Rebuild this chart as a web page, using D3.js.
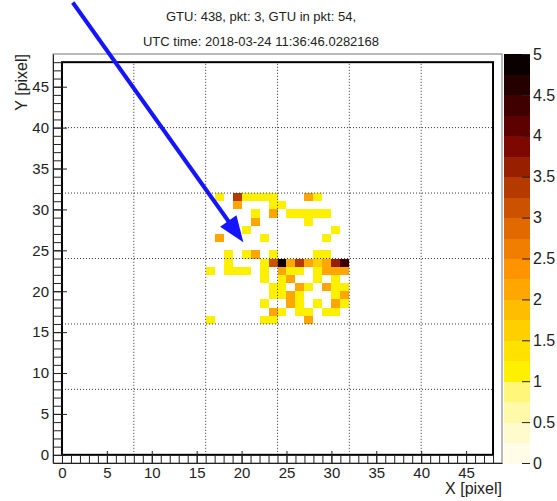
<!DOCTYPE html>
<html>
<head>
<meta charset="utf-8">
<script src="https://cdn.jsdelivr.net/npm/d3@7"></script>
<style>
  body { margin: 0; background: #fff; }
  text { font-family: "Liberation Sans", Arial, Helvetica, sans-serif; }
</style>
</head>
<body>
<svg id="chart" width="557" height="501"></svg>
<script>
// title lines
const titleLines = ['GTU: 438, pkt: 3, GTU in pkt: 54,', 'UTC time: 2018-03-24 11:36:46.0282168']

// pixel hits: [x pixel, y pixel, counts]
const cells = [
  [17,31,1.1],[19,31,3.3],[20,31,1.1],[21,31,1.1],[22,31,1.1],[23,31,1.1],[27,31,2.1],[28,31,1.1],
  [19,30,2.1],[23,30,1.1],[24,30,1.1],
  [21,29,1.1],[23,29,2.1],[25,29,1.1],[26,29,1.1],[27,29,1.1],[28,29,1.1],[29,29,1.1],
  [21,28,2.1],[27,28,1.1],
  [20,27,1.1],[30,27,1.1],
  [17,26,2.1],[22,26,1.1],[29,26,1.1],
  [18,24,1.1],[20,24,1.1],[21,24,2.1],[23,24,1.1],[28,24,1.1],[29,24,1.1],
  [18,23,1.1],[22,23,1.1],[23,23,3.1],[24,23,4.9],[25,23,2.1],[26,23,3.4],[27,23,2.1],
  [28,23,1.6],[29,23,2.1],[30,23,3.6],[31,23,4.4],
  [16,22,1.1],[18,22,1.1],[19,22,1.1],[20,22,1.1],[22,22,1.1],[24,22,2.1],[25,22,1.1],
  [26,22,1.1],[28,22,1.1],[29,22,2.1],[30,22,2.1],[31,22,2.1],
  [22,21,1.1],[24,21,1.1],[25,21,2.1],[28,21,1.1],[30,21,1.1],
  [23,20,1.1],[24,20,1.1],[26,20,2.1],[27,20,1.1],[29,20,2.1],[30,20,1.1],[31,20,1.1],
  [23,19,1.1],[24,19,1.1],[25,19,2.1],[26,19,1.1],[30,19,1.1],[31,19,2.1],
  [22,18,1.1],[25,18,2.1],[26,18,1.1],[28,18,1.1],[30,18,2.1],[31,18,1.1],
  [23,17,2.1],[24,17,1.1],[26,17,1.1],[27,17,1.1],[29,17,1.1],[30,17,1.1],
  [16,16,1.1],[22,16,1.1],[23,16,1.1],[27,16,2.1]
]

// palette, 20 contour levels from 0 to 5
const zLevels = d3.range(0, 5.0001, 0.25)
const palette = [
  '#fffde8','#fffbcc','#fff9a8','#fff67a','#fff000','#ffe200','#ffd000','#ffbd00',
  '#ffa700','#ff9400','#f27e00','#e26900','#cc5200','#b43a00','#982000','#7c0800',
  '#5c0000','#400000','#240000','#0a0000'
]
const zTicks = d3.range(0, 5.0001, 0.5)

const gridLines = [8, 16, 24, 32, 40]
const majorTicks = d3.range(0, 46, 5)
const minorTicks = d3.range(0, 49, 1)

// arrow drawn on the picture, in pixel units of the map
const arrowFrom = [1.2, 55.3]
const arrowTo = [20.2, 26.0]

const svg = d3.select('#chart')

const x = d3.scaleLinear().domain([-1, 49]).range([53, 502])
const y = d3.scaleLinear().domain([-1, 49]).range([463, 54])
const z = d3.scaleLinear().domain([0, 5]).range([463, 54])

const colorScale = d3.scaleThreshold()
  .domain(zLevels.slice(1, 20))
  .range(palette)

// title
svg.selectAll('.title')
  .data(titleLines)
  .enter()
  .append('text')
    .attr('x', 261)
    .attr('y', (d, i) => 21 + i * 25)
    .attr('text-anchor', 'middle')
    .attr('font-size', '13px')
    .attr('fill', '#222')
    .text(d => d)

// outer frame
svg.append('rect')
  .attr('x', x(-1)).attr('y', y(49))
  .attr('width', x(49) - x(-1)).attr('height', y(-1) - y(49))
  .attr('fill', 'none').attr('stroke', '#777').attr('stroke-width', 1)

// cells
svg.selectAll('.cell')
  .data(cells)
  .enter()
  .append('rect')
    .attr('x', d => x(d[0]))
    .attr('y', d => y(d[1] + 1))
    .attr('width', x(1) - x(0))
    .attr('height', y(0) - y(1))
    .attr('fill', d => colorScale(d[2]))
    .attr('shape-rendering', 'crispEdges')

// dotted grid
svg.selectAll('.vgrid')
  .data(gridLines)
  .enter()
  .append('line')
    .attr('x1', d => x(d)).attr('x2', d => x(d))
    .attr('y1', y(0)).attr('y2', y(48))
    .attr('stroke', '#333').attr('stroke-width', 1).attr('stroke-dasharray', '1,2')

svg.selectAll('.hgrid')
  .data(gridLines)
  .enter()
  .append('line')
    .attr('y1', d => y(d)).attr('y2', d => y(d))
    .attr('x1', x(0)).attr('x2', x(48))
    .attr('stroke', '#333').attr('stroke-width', 1).attr('stroke-dasharray', '1,2')

// inner frame around the detector
svg.append('rect')
  .attr('x', x(0)).attr('y', y(48))
  .attr('width', x(48) - x(0)).attr('height', y(0) - y(48))
  .attr('fill', 'none').attr('stroke', '#000').attr('stroke-width', 2)

// axes
function styleAxis(g) {
  g.selectAll('.tick line').attr('stroke', '#222')
  g.selectAll('.tick text').attr('font-size', '15px').attr('fill', '#222')
    .attr('font-family', '"Liberation Sans", Arial, sans-serif')
}

svg.append('g')
  .attr('transform', `translate(0,${y(-1)})`)
  .call(d3.axisBottom(x).tickValues(minorTicks).tickSize(-8).tickSizeOuter(0).tickFormat(''))
  .call(g => g.select('.domain').attr('stroke', '#222'))
  .call(styleAxis)

svg.append('g')
  .attr('transform', `translate(0,${y(-1)})`)
  .call(d3.axisBottom(x).tickValues(majorTicks).tickSize(-12).tickSizeOuter(0).tickPadding(4))
  .call(g => g.select('.domain').remove())
  .call(styleAxis)

svg.append('g')
  .attr('transform', `translate(${x(-1)},0)`)
  .call(d3.axisLeft(y).tickValues(minorTicks).tickSize(-9).tickSizeOuter(0).tickFormat(''))
  .call(g => g.select('.domain').attr('stroke', '#222'))
  .call(styleAxis)

svg.append('g')
  .attr('transform', `translate(${x(-1)},0)`)
  .call(d3.axisLeft(y).tickValues(majorTicks).tickSize(-14).tickSizeOuter(0).tickPadding(4))
  .call(g => g.select('.domain').remove())
  .call(styleAxis)

svg.append('text')
  .attr('x', x(49))
  .attr('y', 494)
  .attr('text-anchor', 'end')
  .attr('font-size', '16px')
  .attr('fill', '#222')
  .text('X [pixel]')

svg.append('text')
  .attr('transform', `translate(27,${y(49)})rotate(-90)`)
  .attr('text-anchor', 'end')
  .attr('font-size', '16px')
  .attr('fill', '#222')
  .text('Y [pixel]')

// colour bar
const barX = 504, barW = 26
svg.selectAll('.band')
  .data(palette)
  .enter()
  .append('rect')
    .attr('x', barX)
    .attr('y', (d, i) => z(zLevels[i + 1]))
    .attr('width', barW)
    .attr('height', (d, i) => z(zLevels[i]) - z(zLevels[i + 1]) + 0.5)
    .attr('fill', d => d)
    .attr('shape-rendering', 'crispEdges')

svg.append('g')
  .attr('transform', `translate(${barX + barW},0)`)
  .call(d3.axisRight(z).tickValues(zTicks).tickSize(-8).tickSizeOuter(0).tickPadding(3)
    .tickFormat(d3.format('~g')))
  .call(g => g.select('.domain').remove())
  .call(g => g.selectAll('.tick line').attr('stroke', '#333'))
  .call(styleAxis)
  .call(g => g.selectAll('.tick text').attr('font-size', '16px'))

// arrow
const p0 = [x(arrowFrom[0]), y(arrowFrom[1])]
const p1 = [x(arrowTo[0]), y(arrowTo[1])]
const len = Math.hypot(p1[0] - p0[0], p1[1] - p0[1])
const ux = (p1[0] - p0[0]) / len, uy = (p1[1] - p0[1]) / len
const headL = 26, headW = 10
const base = [p1[0] - ux * headL, p1[1] - uy * headL]

svg.append('line')
  .attr('x1', p0[0]).attr('y1', p0[1])
  .attr('x2', base[0] + ux * 4).attr('y2', base[1] + uy * 4)
  .attr('stroke', '#1414ff').attr('stroke-width', 4)

svg.append('path')
  .attr('d', d3.line()([
    p1,
    [base[0] + uy * headW, base[1] - ux * headW],
    [base[0] - uy * headW, base[1] + ux * headW]
  ]) + 'Z')
  .attr('fill', '#1414ff')
</script>
</body>
</html>
